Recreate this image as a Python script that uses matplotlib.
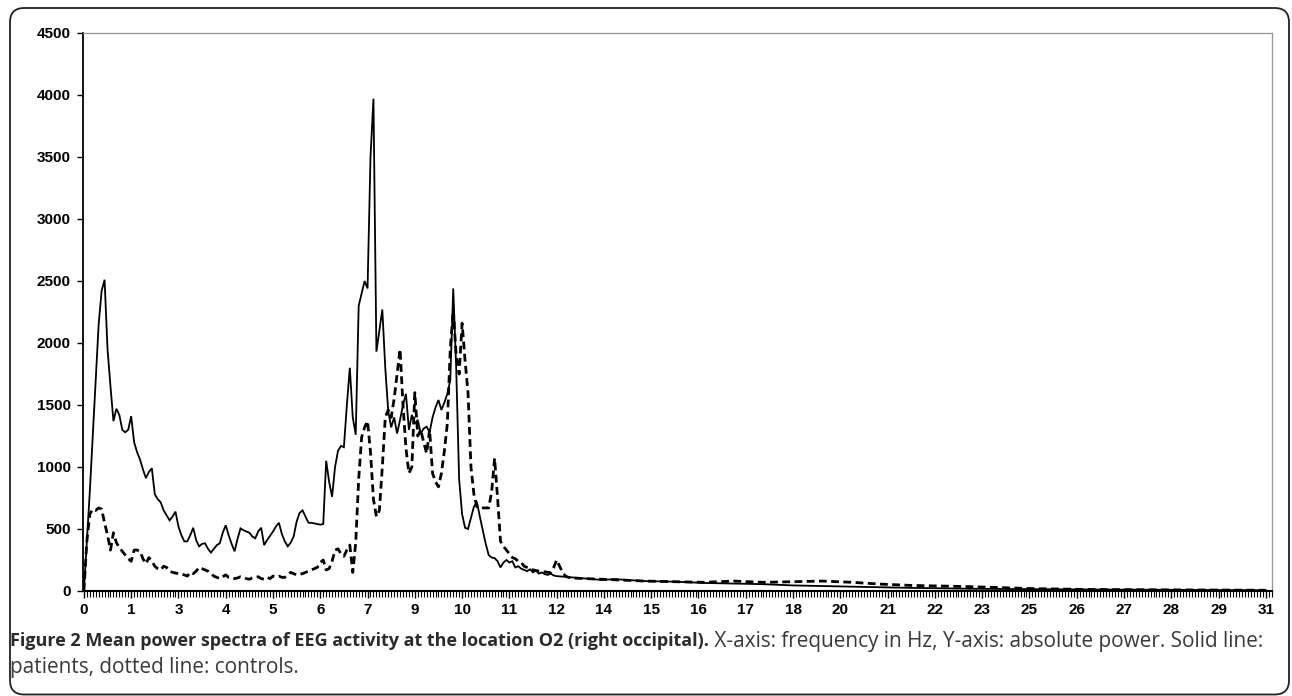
import matplotlib
matplotlib.use("Agg")
import matplotlib.pyplot as plt
from matplotlib.patches import FancyBboxPatch

# ---------------- data ----------------
x_tick_labels = ["0", "1", "3", "4", "5", "6", "7", "9", "10", "11", "12", "14", "15",
                 "16", "17", "18", "20", "21", "22", "23", "25", "26", "27", "28", "29", "31"]
bins_per_label = 16

patients_bins = list(range(0, 161)) + [165, 170, 175, 180, 190, 200, 210, 220, 230, 240, 250,
                                       260, 270, 280, 290, 300, 320, 340, 360, 380, 400]
patients_vals = [
    0, 400, 800, 1250, 1700, 2150, 2420, 2510, 1950, 1650,
    1370, 1470, 1420, 1300, 1280, 1300, 1410, 1200, 1120, 1060,
    980, 910, 960, 990, 780, 740, 715, 650, 610, 570,
    600, 640, 520, 450, 400, 400, 450, 510, 410, 360,
    380, 385, 340, 310, 340, 370, 385, 470, 530, 450,
    380, 320, 420, 505, 490, 480, 470, 440, 425, 480,
    510, 370, 410, 445, 480, 520, 550, 460, 400, 360,
    390, 440, 560, 630, 650, 600, 550, 550, 545, 540,
    535, 540, 1050, 880, 760, 1000, 1130, 1170, 1160, 1500,
    1800, 1400, 1260, 2300, 2400, 2500, 2440, 3500, 3970, 1930,
    2100, 2270, 1800, 1450, 1320, 1400, 1270, 1380, 1500, 1590,
    1300, 1420, 1350, 1380, 1270, 1310, 1325, 1280, 1400, 1480,
    1540, 1460, 1520, 1590, 1700, 2440, 1800, 900, 620, 510,
    500, 590, 680, 720, 600, 490, 380, 290, 270, 265,
    240, 190, 230, 250, 230, 240, 190, 200, 180, 170,
    160, 175, 150, 165, 140, 150, 135, 130, 140, 125,
    120,
    110, 100, 90, 95, 80, 75, 65, 60, 55, 45, 40,
    35, 30, 25, 22, 18, 15, 12, 10, 8, 6]

controls_bins = list(range(0, 166)) + [170, 175, 180, 190, 200, 210, 220, 230, 240, 250,
                                       260, 270, 280, 290, 300, 320, 340, 360, 380, 400]
controls_vals = [
    0, 400, 620, 660, 650, 670, 660, 550, 450, 330,
    470, 390, 350, 320, 290, 260, 240, 330, 330, 320,
    260, 220, 270, 240, 200, 180, 170, 200, 190, 160,
    150, 145, 140, 135, 130, 120, 150, 140, 160, 190,
    180, 170, 160, 140, 120, 110, 100, 115, 130, 110,
    110, 100, 105, 115, 110, 100, 95, 105, 110, 115,
    100, 95, 110, 100, 120, 115, 120, 110, 110, 130,
    150, 140, 130, 135, 140, 150, 160, 170, 180, 190,
    230, 250, 170, 180, 240, 330, 340, 300, 280, 330,
    370, 150, 390, 900, 1240, 1320, 1370, 1120, 740, 600,
    650, 1000, 1400, 1460, 1400, 1550, 1750, 1950, 1500, 1150,
    950, 1000, 1600, 1250, 1300, 1200, 1110, 1300, 950, 880,
    840, 950, 1130, 1350, 1950, 2270, 1900, 1750, 2160, 1860,
    1600, 1000, 780, 680, 670, 670, 670, 670, 800, 1070,
    750, 400, 360, 330, 300, 270, 260, 240, 230, 200,
    190, 180, 170, 165, 160, 160, 155, 150, 150, 190,
    250, 200, 150, 120, 110, 105,
    100, 95, 90, 80, 75, 70, 80, 70, 75, 80,
    70, 55, 45, 40, 35, 20, 12, 10, 8, 6]

y_ticks = [0, 500, 1000, 1500, 2000, 2500, 3000, 3500, 4000, 4500]

# ---------------- figure ----------------
W, H = 1292, 696
fig = plt.figure(figsize=(W / 100, H / 100), dpi=100)

# outer rounded frame
frame = FancyBboxPatch((10 / W, 1.5 / H), (1289 - 10) / W, (H - 8 - 1.5) / H,
                       boxstyle="round,pad=0,rounding_size=0.011",
                       transform=fig.transFigure, fill=False,
                       edgecolor="#222222", linewidth=1.3, mutation_aspect=W / H)
fig.patches.append(frame)

left, right, top, bottom = 83, 1272, 33, 591
ax = fig.add_axes([left / W, 1 - bottom / H, (right - left) / W, (bottom - top) / H])

ax.plot(patients_bins, patients_vals, color="black", linewidth=1.3, solid_joinstyle="miter")
ax.plot(controls_bins, controls_vals, color="black", linewidth=2.0,
        linestyle=(0, (2.8, 1.6)))

n_labels = len(x_tick_labels)
last_bin = (n_labels - 1) * bins_per_label
ax.set_xlim(-0.3, last_bin + 2.1)
ax.set_ylim(0, 4500)

ax.set_xticks([i * bins_per_label for i in range(n_labels)])
ax.set_xticklabels(x_tick_labels)
ax.set_xticks(list(range(0, last_bin + 3)), minor=True)
ax.set_yticks(y_ticks)
ax.set_yticklabels([str(v) for v in y_ticks])

for lab in ax.get_xticklabels() + ax.get_yticklabels():
    lab.set_fontfamily("Liberation Sans")
    lab.set_fontweight("bold")
    lab.set_fontsize(11)

ax.tick_params(axis="x", which="major", direction="out", length=5, width=1.0, pad=4)
ax.tick_params(axis="x", which="minor", direction="out", length=4, width=0.8)
ax.tick_params(axis="y", which="major", direction="out", length=4, width=1.0, pad=5)

ax.spines["left"].set_linewidth(1.3)
ax.spines["bottom"].set_linewidth(1.5)
ax.spines["top"].set_color("#9a9a9a")
ax.spines["right"].set_color("#9a9a9a")
ax.spines["top"].set_linewidth(1.0)
ax.spines["right"].set_linewidth(1.0)

# ---------------- caption ----------------
bold_txt = "Figure 2 Mean power spectra of EEG activity at the location O2 (right occipital)."
reg_txt = " X-axis: frequency in Hz, Y-axis: absolute power. Solid line:"
line2 = "patients, dotted line: controls."
cap_font = "Open Sans"
fs = 12
renderer = fig.canvas.get_renderer()
t1 = fig.text(10 / W, 1 - 641 / H, bold_txt, fontsize=fs, fontweight="bold",
              family=cap_font, color="#2b2b2b", va="center", ha="left")
bb = t1.get_window_extent(renderer)
fs_b = fs * (711 - 10) / bb.width
t1.set_fontsize(fs_b)
bb = t1.get_window_extent(renderer)
t2 = fig.text(bb.x1 / W, 1 - 641 / H, reg_txt, fontsize=fs, family=cap_font,
              color="#3a3a3a", va="center", ha="left")
bb2 = t2.get_window_extent(renderer)
fs_r = fs * (1261 - bb.x1) / bb2.width
t2.set_fontsize(fs_r)
fig.text(10 / W, 1 - 667 / H, line2, fontsize=fs_r, family=cap_font,
         color="#3a3a3a", va="center", ha="left")

fig.savefig("out.png", dpi=100)
